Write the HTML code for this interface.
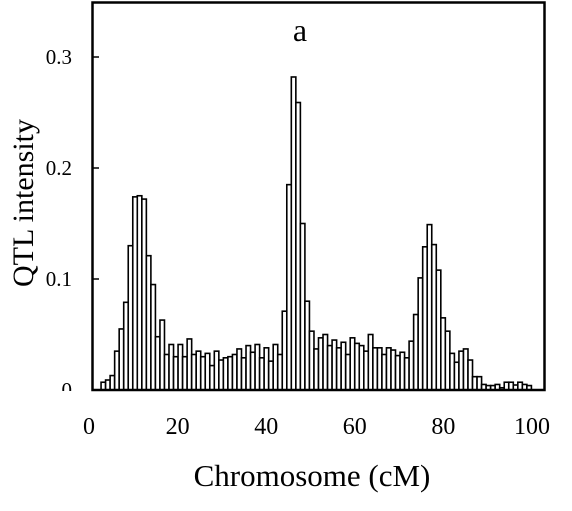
<!DOCTYPE html>
<html><head><meta charset="utf-8"><style>
html,body{margin:0;padding:0;background:#fff;}
svg{display:block;font-family:"Liberation Serif",serif;}
</style></head><body>
<svg id="chart" width="572" height="511" viewBox="0 0 572 511">
<g id="bars"></g>
<rect x="92.5" y="2.5" width="452" height="387.5" fill="none" stroke="#000" stroke-width="2.5"/>
<g id="yticks"></g>
<g id="xticks"></g>
<text x="300" y="41" font-size="32" text-anchor="middle">a</text>
<text x="312" y="486" font-size="31" text-anchor="middle">Chromosome (cM)</text>
<text transform="translate(33,203) rotate(-90)" font-size="30" text-anchor="middle">QTL intensity</text>
</svg>
<script>
const startCM = 2;
const values = [0.007,0.009,0.013,0.035,0.055,0.079,0.13,0.174,0.175,0.172,0.121,0.095,0.048,0.063,0.032,0.041,0.030,0.041,0.030,0.046,0.032,0.035,0.030,0.033,0.022,0.035,0.027,0.029,0.030,0.032,0.037,0.029,
0.040,0.034,0.041,0.029,0.038,0.026,0.041,0.032,0.071,0.185,0.282,0.259,0.150,0.080,0.053,0.037,0.047,0.050,0.040,0.045,0.038,0.043,0.032,0.047,0.042,0.040,0.035,0.050,0.038,0.038,0.032,0.038,0.036,0.031,
0.034,0.029,0.044,0.068,0.101,0.129,0.149,0.131,0.108,0.065,0.053,0.033,0.025,0.035,0.037,0.027,0.012,0.012,0.005,0.004,0.004,0.005,0.002,0.007,0.007,0.0045,0.007,0.005,0.004];
const yTicks = [0,0.1,0.2,0.3];
const yTickLabels = ["0","0.1","0.2","0.3"];
const xTicks = [0,20,40,60,80,100];
const xTickLabels = ["0","20","40","60","80","100"];
const NS = "http://www.w3.org/2000/svg";
const xS = v => 92 + v*4.53;
const yS = v => 390 - v*1110;
const xL = v => 89 + v*4.43;
const bars = document.getElementById('bars');
values.forEach((v,i)=>{
  const r = document.createElementNS(NS,'rect');
  const cm = startCM + i;
  r.setAttribute('x', xS(cm)); r.setAttribute('width', 4.53);
  r.setAttribute('y', yS(v)); r.setAttribute('height', 390 - yS(v));
  r.setAttribute('fill','#fff'); r.setAttribute('stroke','#000'); r.setAttribute('stroke-width','1.6');
  
  
  bars.appendChild(r);
});
const yg = document.getElementById('yticks');
yTicks.forEach((t,i)=>{
  const y = yS(t);
  if (t>0){
    const l = document.createElementNS(NS,'line');
    l.setAttribute('x1',92); l.setAttribute('x2',99); l.setAttribute('y1',y); l.setAttribute('y2',y);
    l.setAttribute('stroke','#000'); l.setAttribute('stroke-width','1.5');
    
    
    yg.appendChild(l);
  }
  const tx = document.createElementNS(NS,'text');
  tx.setAttribute('x',72); tx.setAttribute('y',y+7); tx.setAttribute('font-size','21'); tx.setAttribute('text-anchor','end');
  tx.textContent = yTickLabels[i];
  
  
  yg.appendChild(tx);
});
const cover = document.createElementNS(NS,'rect');
cover.setAttribute('x',30); cover.setAttribute('y',391); cover.setAttribute('width',60); cover.setAttribute('height',12); cover.setAttribute('fill','#fff');


yg.appendChild(cover);
const xg = document.getElementById('xticks');
xTicks.forEach((t,i)=>{
  const tx = document.createElementNS(NS,'text');
  tx.setAttribute('x',xL(t)); tx.setAttribute('y',434); tx.setAttribute('font-size','24'); tx.setAttribute('text-anchor','middle');
  tx.textContent = xTickLabels[i];
  
  
  xg.appendChild(tx);
});
</script>
</body></html>
